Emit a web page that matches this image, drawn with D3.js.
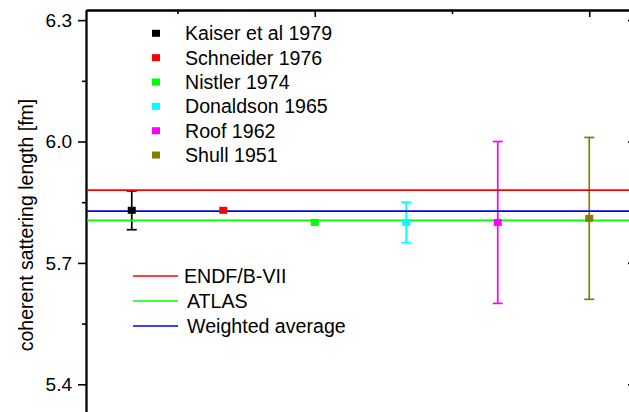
<!DOCTYPE html>
<html>
<head>
<meta charset="utf-8">
<script src="https://cdn.jsdelivr.net/npm/d3@7"></script>
<style>
  html, body { margin: 0; padding: 0; background: #fff; }
  svg { display: block; font-family: "Liberation Sans", Arial, sans-serif; }
</style>
</head>
<body>
<svg id="chart" width="629" height="412"></svg>
<script>
// Measurements of the coherent scattering length
const experiments = ["Kaiser et al 1979", "Schneider 1976", "Nistler 1974", "Donaldson 1965", "Roof 1962", "Shull 1951"];
const positions   = [1, 2, 3, 4, 5, 6];
const values      = [5.83, 5.83, 5.80, 5.80, 5.80, 5.81];
const errors      = [0.048, 0.004, 0.0, 0.05, 0.20, 0.20];
const colors      = ["#000000", "#ff0000", "#00ff00", "#00ffff", "#ff00ff", "#808000"];

// Reference levels
const refNames  = ["ENDF/B-VII", "ATLAS", "Weighted average"];
const refValues = [5.88, 5.805, 5.828];
const refColors = ["#ff0000", "#00ff00", "#0000ff"];

// Axis ticks
const yMajor = [5.4, 5.7, 6.0, 6.3];
const yMinor = [5.25, 5.55, 5.85, 6.15];
const xMajor = [3, 6];
const xMinor = [1.5, 4.5];

const svg = d3.select("#chart");
const plotLeft = 86, plotRight = 635, plotTop = 10, plotBottom = 445;

const x = d3.scaleLinear().domain([0.5, 6.5]).range([plotLeft, plotRight]);
const y = d3.scaleLinear().domain([5.25, 6.325]).range([plotBottom, plotTop]);

const axisW = 1.8;

function styleAxis(g) {
  g.selectAll("path.domain").attr("stroke", "#000").attr("stroke-width", axisW);
  g.selectAll(".tick line").attr("stroke", "#000").attr("stroke-width", 1.6);
  g.selectAll(".tick text").attr("fill", "#000").style("font-size", "19px")
    .style("font-family", "'Liberation Sans', Arial, sans-serif");
}

// Left axis: outward ticks with labels
svg.append("g").attr("transform", `translate(${plotLeft},0)`)
  .call(d3.axisLeft(y).tickValues(yMinor).tickSize(4).tickSizeOuter(0).tickFormat(""))
  .call(styleAxis);
svg.append("g").attr("transform", `translate(${plotLeft},0)`)
  .call(d3.axisLeft(y).tickValues(yMajor).tickSize(8).tickSizeOuter(0).tickPadding(6).tickFormat(d3.format(".1f")))
  .call(styleAxis);

// Right axis: inward ticks
svg.append("g").attr("transform", `translate(${plotRight},0)`)
  .call(d3.axisRight(y).tickValues(yMajor).tickSize(-7).tickSizeOuter(0).tickFormat(""))
  .call(styleAxis);

// Top axis: inward ticks
svg.append("g").attr("transform", `translate(0,${plotTop})`)
  .call(d3.axisTop(x).tickValues(xMinor).tickSize(-4).tickSizeOuter(0).tickFormat(""))
  .call(styleAxis);
svg.append("g").attr("transform", `translate(0,${plotTop})`)
  .call(d3.axisTop(x).tickValues(xMajor).tickSize(-7).tickSizeOuter(0).tickFormat(""))
  .call(styleAxis);

// Y axis title
svg.append("text")
  .attr("transform", `translate(33,225) rotate(-90)`)
  .attr("text-anchor", "middle")
  .style("font-size", "19.5px")
  .attr("fill", "#000")
  .text("coherent sattering length [fm]");

const data = experiments.map((name, i) => ({
  name, pos: positions[i], value: values[i], err: errors[i], color: colors[i]
}));

// Error bars
const capW = 10;
const eb = svg.append("g").selectAll("g").data(data.filter(d => d.err > 0.01)).join("g")
  .attr("stroke", d => d.color).attr("stroke-width", 1.7);
eb.append("line")
  .attr("x1", d => x(d.pos)).attr("x2", d => x(d.pos))
  .attr("y1", d => y(d.value - d.err)).attr("y2", d => y(d.value + d.err));
eb.append("line")
  .attr("x1", d => x(d.pos) - capW / 2).attr("x2", d => x(d.pos) + capW / 2)
  .attr("y1", d => y(d.value + d.err)).attr("y2", d => y(d.value + d.err));
eb.append("line")
  .attr("x1", d => x(d.pos) - capW / 2).attr("x2", d => x(d.pos) + capW / 2)
  .attr("y1", d => y(d.value - d.err)).attr("y2", d => y(d.value - d.err));

// Reference lines
svg.append("g").selectAll("line").data(refValues).join("line")
  .attr("x1", plotLeft + 1).attr("x2", plotRight)
  .attr("y1", d => y(d)).attr("y2", d => y(d))
  .attr("stroke", (d, i) => refColors[i]).attr("stroke-width", 1.7);

// Markers
const sq = 8;
svg.append("g").selectAll("rect").data(data).join("rect")
  .attr("x", d => x(d.pos) - sq / 2).attr("y", d => y(d.value) - sq / 2 + 0.5)
  .attr("width", sq).attr("height", sq - 1)
  .attr("fill", d => d.color);

// Legend: experiments
const leg1 = svg.append("g").selectAll("g").data(data).join("g")
  .attr("transform", (d, i) => `translate(156,${33.3 + i * 24.35})`);
leg1.append("rect").attr("x", -4).attr("y", -3.5).attr("width", 8).attr("height", 7)
  .attr("fill", d => d.color);
leg1.append("text").attr("x", 29).attr("y", 0).attr("dy", "0.35em")
  .style("font-size", "19.6px").attr("fill", "#000")
  .text(d => d.name);

// Legend: reference levels
const leg2 = svg.append("g").selectAll("g").data(refNames).join("g")
  .attr("transform", (d, i) => `translate(133,${276 + i * 25})`);
leg2.append("line").attr("x1", 0).attr("x2", 45).attr("y1", 0).attr("y2", 0)
  .attr("stroke", (d, i) => refColors[i]).attr("stroke-width", 1.7);
leg2.append("text").attr("x", (d, i) => i === 0 ? 51 : 54).attr("y", 0).attr("dy", "0.35em")
  .style("font-size", "19.6px").attr("fill", "#000")
  .text(d => d);
</script>
</body>
</html>
